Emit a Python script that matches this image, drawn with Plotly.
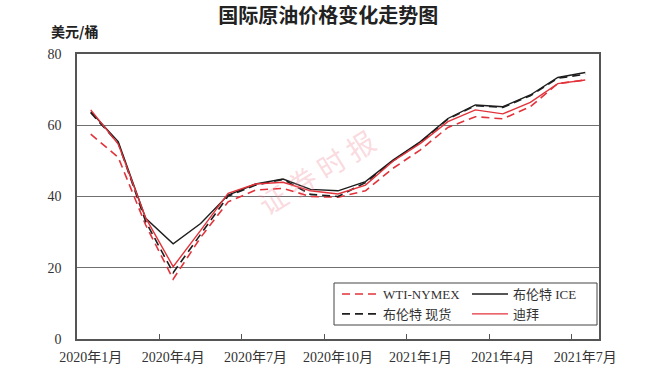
import plotly.graph_objects as go

months = ["2020年1月", "2020年2月", "2020年3月", "2020年4月", "2020年5月", "2020年6月",
          "2020年7月", "2020年8月", "2020年9月", "2020年10月", "2020年11月", "2020年12月",
          "2021年1月", "2021年2月", "2021年3月", "2021年4月", "2021年5月", "2021年6月",
          "2021年7月"]

wti_nymex = [57.5, 51.0, 32.0, 16.8, 28.5, 38.5, 41.8, 42.3, 40.0, 39.8, 41.6, 47.9,
             53.1, 59.4, 62.4, 61.8, 65.2, 71.7, 72.7]
brent_ice = [63.8, 55.4, 33.9, 26.7, 32.4, 40.4, 43.5, 44.9, 42.0, 41.6, 44.2, 50.2,
             55.4, 61.9, 65.7, 65.2, 68.5, 73.4, 74.8]
brent_spot = [63.5, 55.0, 33.0, 18.6, 29.4, 40.1, 43.2, 44.8, 40.6, 40.0, 43.9, 50.0,
              55.2, 61.7, 65.5, 65.0, 68.3, 73.2, 74.3]
dubai = [64.3, 54.7, 34.0, 20.3, 30.5, 40.9, 43.5, 44.0, 41.6, 40.7, 43.2, 49.9,
         54.9, 61.0, 64.3, 63.2, 66.4, 71.7, 72.7]

RED = "#e2333b"
BLACK = "#1e1e1e"
SERIF = "Liberation Serif, Noto Sans CJK SC, serif"

fig = go.Figure()
fig.add_trace(go.Scatter(x=months, y=wti_nymex, name="WTI-NYMEX", mode="lines",
                         legend="legend",
                         line=dict(color=RED, width=1.6, dash="8px,5px")))
fig.add_trace(go.Scatter(x=months, y=brent_ice, name="布伦特 ICE", mode="lines",
                         legend="legend2",
                         line=dict(color=BLACK, width=1.4)))
fig.add_trace(go.Scatter(x=months, y=brent_spot, name="布伦特 现货", mode="lines",
                         legend="legend",
                         line=dict(color=BLACK, width=1.6, dash="8px,5px")))
fig.add_trace(go.Scatter(x=months, y=dubai, name="迪拜", mode="lines",
                         legend="legend2",
                         line=dict(color=RED, width=1.4)))

def px_x(p):
    return (p - 77) / 522

def px_y(p):
    return (339 - p) / 285

legend_common = dict(orientation="v", yanchor="top", xanchor="left",
                     bgcolor="rgba(0,0,0,0)", borderwidth=0, tracegroupgap=0,
                     itemwidth=36,
                     font=dict(family=SERIF, size=13, color="#333"))

fig.update_layout(
    width=670, height=367,
    margin=dict(l=77, r=71, t=54, b=28),
    paper_bgcolor="white", plot_bgcolor="white",
    title=dict(text="国际原油价格变化走势图", x=0.49, xanchor="center",
               y=1 - 16 / 367, yanchor="middle",
               font=dict(family="Noto Sans CJK SC", size=20, color="#222", weight=600)),
    showlegend=True,
    legend=dict(x=px_x(337), y=px_y(279), **legend_common),
    legend2=dict(x=px_x(467), y=px_y(279), **legend_common),
    xaxis=dict(type="category", range=[-0.5, 18.5], tickmode="linear", tick0=0, dtick=3,
               tickson="boundaries", ticks="inside", ticklen=5, tickcolor="#555",
               tickangle=0, automargin=False, ticklabelstandoff=4,
               showgrid=False, showline=True, linecolor="#555", linewidth=1.5,
               mirror=True, tickfont=dict(family=SERIF, size=14, color="#333")),
    yaxis=dict(range=[0, 80], tickvals=[0, 20, 40, 60, 80], showgrid=True,
               gridcolor="#707070", gridwidth=1, showline=True, linecolor="#555",
               linewidth=1.5, mirror=True, ticks="", zeroline=False, automargin=False,
               ticklabelstandoff=11,
               tickfont=dict(family=SERIF, size=14, color="#333")),
    shapes=[
        dict(type="rect", xref="paper", yref="paper",
             x0=px_x(334), x1=px_x(597), y0=px_y(325), y1=px_y(283),
             line=dict(color="#444", width=1), fillcolor="white", layer="above"),
    ],
    annotations=[
        dict(text="<b>美元/桶</b>", xref="paper", yref="paper", x=-0.054, y=1.08,
             xanchor="left", yanchor="middle", showarrow=False,
             font=dict(family="Noto Sans CJK SC", size=14, color="#222")),
        dict(text="证 券 时 报", xref="paper", yref="paper",
             x=px_x(316), y=px_y(172), showarrow=False,
             textangle=-32, font=dict(family="Noto Sans CJK SC", size=28,
                                      color="rgba(240,130,145,0.3)")),
    ],
)

fig.write_html("out.html", config={"displayModeBar": False},
               post_script="document.body.style.margin='0';")
